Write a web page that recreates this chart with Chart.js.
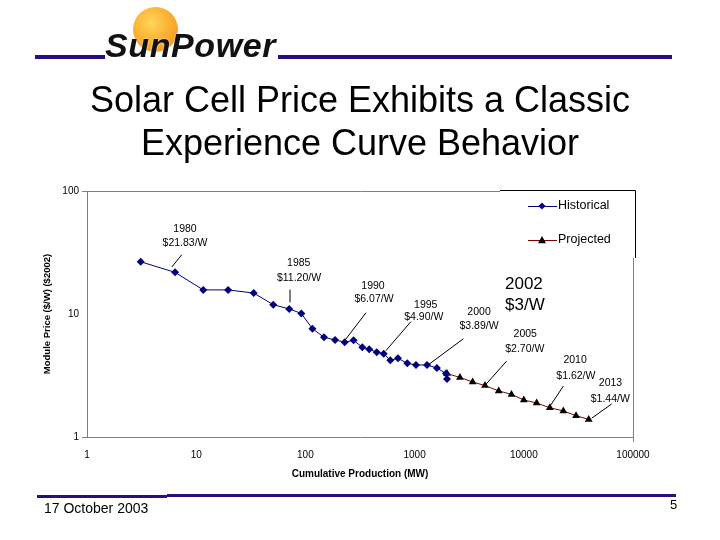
<!DOCTYPE html>
<html>
<head>
<meta charset="utf-8">
<script src="https://cdn.jsdelivr.net/npm/chart.js"></script>
<style>
  html, body { margin: 0; padding: 0; background: #fff; }
  #page { position: relative; width: 720px; height: 540px; overflow: hidden; font-family: "Liberation Sans", Arial, sans-serif; }
  #plot { position: absolute; left: 0; top: 0; }
  .rule { position: absolute; background: #2a0d80; }
  #sun { position: absolute; left: 133px; top: 7px; width: 45px; height: 45px; border-radius: 50%;
         background: radial-gradient(circle at 40% 35%, #ffd65a 0%, #fbb233 45%, #f08a12 100%); }
  #brand { position: absolute; left: 105px; top: 26px; font-size: 34px; font-weight: bold; font-style: italic;
           color: #111; letter-spacing: 0.6px; text-shadow: 0 0 2px #fff; }
  #title { position: absolute; left: 0; top: 78px; width: 720px; text-align: center; font-size: 36px; line-height: 43px; color: #000; }
  #date { position: absolute; left: 44px; top: 500px; font-size: 14px; color: #000; }
  #num { position: absolute; left: 670px; top: 497px; font-size: 13px; color: #000; }
</style>
</head>
<body>
<div id="page">
  <canvas id="plot" width="720" height="540"></canvas>
  <div class="rule" style="left:35px;top:55px;width:70px;height:4px"></div>
  <div class="rule" style="left:278px;top:55px;width:394px;height:4px"></div>
  <div id="sun"></div>
  <div id="brand">SunPower</div>
  <div id="title">Solar Cell Price Exhibits a Classic<br>Experience Curve Behavior</div>
  <div class="rule" style="left:37px;top:495px;width:130px;height:3px"></div>
  <div class="rule" style="left:167px;top:494px;width:509px;height:3px"></div>
  <div id="date">17 October 2003</div>
  <div id="num">5</div>
</div>
<script>
// cumulative production (MW) and module price ($/W, $2002)
const histX = [3.1, 6.4, 11.6, 19.6, 33.6, 50.8, 71.1, 91.7, 116, 148, 187, 229, 276, 332, 384, 450, 521, 599, 705, 857, 1030, 1300, 1600, 1940, 1980];
const histY = [26.6, 21.8, 15.7, 15.7, 14.8, 11.9, 11.0, 10.1, 7.6, 6.47, 6.15, 5.9, 6.11, 5.37, 5.16, 4.89, 4.75, 4.2, 4.36, 3.97, 3.85, 3.85, 3.64, 3.28, 2.96];
const projX = [1980, 2600, 3400, 4410, 5890, 7710, 10000, 13100, 17300, 23000, 30100, 39300];
const projY = [3.28, 3.05, 2.80, 2.62, 2.37, 2.22, 2.00, 1.89, 1.73, 1.63, 1.49, 1.39];
const xTicks = [1, 10, 100, 1000, 10000, 100000];
const yTicks = [1, 10, 100];

// callouts: text lines and leader offsets relative to the point they point at
const callouts = [
  { ds: 0, i: 1, lines: ["1980", "$21.83/W"], pos: [[10, -43.6], [10, -29.3]], lead: [6.7, -17.6, -3.3, -5.3] },
  { ds: 0, i: 6, lines: ["1985", "$11.20/W"], pos: [[9.5, -46], [9.8, -30.3]], lead: [0.8, -19.3, 0.8, -6.6] },
  { ds: 0, i: 11, lines: ["1990", "$6.07/W"], pos: [[28.3, -56.2], [29.3, -42.6]], lead: [21.3, -29.4, 0.3, -2] },
  { ds: 0, i: 16, lines: ["1995", "$4.90/W"], pos: [[42.1, -48.2], [40.1, -36.2]], lead: [27.3, -32.2, 2.3, -3.2] },
  { ds: 0, i: 21, lines: ["2000", "$3.89/W"], pos: [[52, -53.2], [52, -38.5]], lead: [36.3, -26.2, 1.3, -0.2] },
  { ds: 1, i: 3, lines: ["2005", "$2.70/W"], pos: [[40.3, -51.5], [39.8, -36.5]], lead: [21.7, -24.5, 0.3, -0.5] },
  { ds: 1, i: 8, lines: ["2010", "$1.62/W"], pos: [[25.3, -47.7], [26.1, -31.7]], lead: [13.6, -21.7, 0.3, -1.7] },
  { ds: 1, i: 11, lines: ["2013", "$1.44/W"], pos: [[21.8, -36.2], [21.6, -20.5]], lead: [23, -15.5, 3, -1.2] }
];

const FONT = '"Liberation Sans", Arial, sans-serif';

function marker(ctx, style, x, y, r, color) {
  ctx.save();
  ctx.fillStyle = color;
  ctx.beginPath();
  if (style === "rectRot") {
    ctx.moveTo(x, y - r); ctx.lineTo(x + r, y); ctx.lineTo(x, y + r); ctx.lineTo(x - r, y);
  } else {
    ctx.moveTo(x, y - r); ctx.lineTo(x + r, y + r * 0.8); ctx.lineTo(x - r, y + r * 0.8);
  }
  ctx.closePath();
  ctx.fill();
  ctx.restore();
}

const decor = {
  id: "decor",
  beforeDatasetsDraw(chart) {
    const { ctx, chartArea: a } = chart;
    ctx.save();
    ctx.strokeStyle = "#808080";
    ctx.lineWidth = 1;
    ctx.beginPath();
    ctx.moveTo(a.left, a.top + 0.5); ctx.lineTo(a.right + 0.5, a.top + 0.5); ctx.lineTo(a.right + 0.5, a.bottom);
    ctx.stroke();
    ctx.restore();
  },
  afterDatasetsDraw(chart) {
    const { ctx, chartArea: a } = chart;
    ctx.save();
    // callouts
    ctx.fillStyle = "#000";
    ctx.strokeStyle = "#000";
    ctx.lineWidth = 1;
    ctx.textAlign = "center";
    ctx.textBaseline = "middle";
    ctx.font = "10.5px " + FONT;
    callouts.forEach(c => {
      const p = chart.getDatasetMeta(c.ds).data[c.i];
      c.lines.forEach((t, k) => ctx.fillText(t, p.x + c.pos[k][0], p.y + c.pos[k][1]));
      ctx.beginPath();
      ctx.moveTo(p.x + c.lead[0], p.y + c.lead[1]);
      ctx.lineTo(p.x + c.lead[2], p.y + c.lead[3]);
      ctx.stroke();
    });
    // 2002 big label
    const last = chart.getDatasetMeta(0).data[histX.length - 1];
    ctx.textAlign = "left";
    ctx.font = "17px " + FONT;
    ctx.fillText("2002", last.x + 58, last.y - 95);
    ctx.fillText("$3/W", last.x + 58, last.y - 74);

    // legend box
    const lx = a.right - 133, ly = a.top - 1, lw = 135, lh = 68;
    ctx.fillStyle = "#fff";
    ctx.fillRect(lx, ly, lw, lh);
    ctx.strokeStyle = "#000";
    ctx.beginPath();
    ctx.moveTo(lx, ly + 0.5); ctx.lineTo(lx + lw + 0.5, ly + 0.5); ctx.lineTo(lx + lw + 0.5, ly + lh);
    ctx.stroke();
    const items = [
      { label: "Historical", line: "#000080", mk: "#000080", style: "rectRot", dy: 16 },
      { label: "Projected", line: "#800000", mk: "#000", style: "triangle", dy: 50 }
    ];
    ctx.font = "12.5px " + FONT;
    ctx.textBaseline = "middle";
    items.forEach(it => {
      const y = ly + it.dy;
      ctx.strokeStyle = it.line;
      ctx.beginPath();
      ctx.moveTo(lx + 28, y + 0.5); ctx.lineTo(lx + 57, y + 0.5);
      ctx.stroke();
      marker(ctx, it.style, lx + 42, y, it.style === "rectRot" ? 3.5 : 4, it.mk);
      ctx.fillStyle = "#000";
      ctx.fillText(it.label, lx + 58, y);
    });
    ctx.restore();
  }
};

const tickColor = ends => c => (ends.includes(c.tick && c.tick.value) ? "#808080" : "rgba(0,0,0,0)");

new Chart(document.getElementById("plot"), {
  type: "line",
  data: {
    datasets: [
      {
        label: "Historical",
        data: histX.map((x, i) => ({ x: x, y: histY[i] })),
        borderColor: "#000080",
        backgroundColor: "#000080",
        borderWidth: 1,
        pointStyle: "rectRot",
        pointRadius: 4,
        pointBorderWidth: 0,
        tension: 0
      },
      {
        label: "Projected",
        data: projX.map((x, i) => ({ x: x, y: projY[i] })),
        borderColor: "#800000",
        backgroundColor: "#000",
        borderWidth: 1,
        pointStyle: "triangle",
        pointRadius: 4.5,
        pointBorderWidth: 0,
        tension: 0
      }
    ]
  },
  options: {
    responsive: false,
    animation: false,
    layout: { padding: { left: 38, top: 191, right: 87, bottom: 56 } },
    plugins: { legend: { display: false }, tooltip: { enabled: false } },
    scales: {
      x: {
        type: "logarithmic",
        min: 1,
        max: 100000,
        afterBuildTicks: s => { s.ticks = xTicks.map(v => ({ value: v })); },
        afterFit: s => { s.height = 47; },
        ticks: { autoSkip: false, maxRotation: 0, padding: 7, color: "#000", font: { family: FONT, size: 10 }, callback: v => String(v) },
        grid: { drawOnChartArea: false, tickLength: 5, color: tickColor([100000]) },
        border: { color: "#808080", width: 1 },
        title: { display: true, text: "Cumulative Production (MW)", color: "#000", padding: { top: 0, bottom: 4 }, font: { family: FONT, size: 10, weight: "bold" } }
      },
      y: {
        type: "logarithmic",
        min: 1,
        max: 100,
        afterBuildTicks: s => { s.ticks = yTicks.map(v => ({ value: v })); },
        afterFit: s => { s.width = 49; },
        ticks: { autoSkip: false, padding: 3, color: "#000", font: { family: FONT, size: 10 }, callback: v => String(v) },
        grid: { drawOnChartArea: false, tickLength: 5, color: tickColor([1, 100]) },
        border: { color: "#808080", width: 1 },
        title: { display: true, text: "Module Price ($/W) ($2002)", color: "#000", padding: { top: 4, bottom: 0 }, font: { family: FONT, size: 9.5, weight: "bold" } }
      }
    }
  },
  plugins: [decor]
});
</script>
</body>
</html>
